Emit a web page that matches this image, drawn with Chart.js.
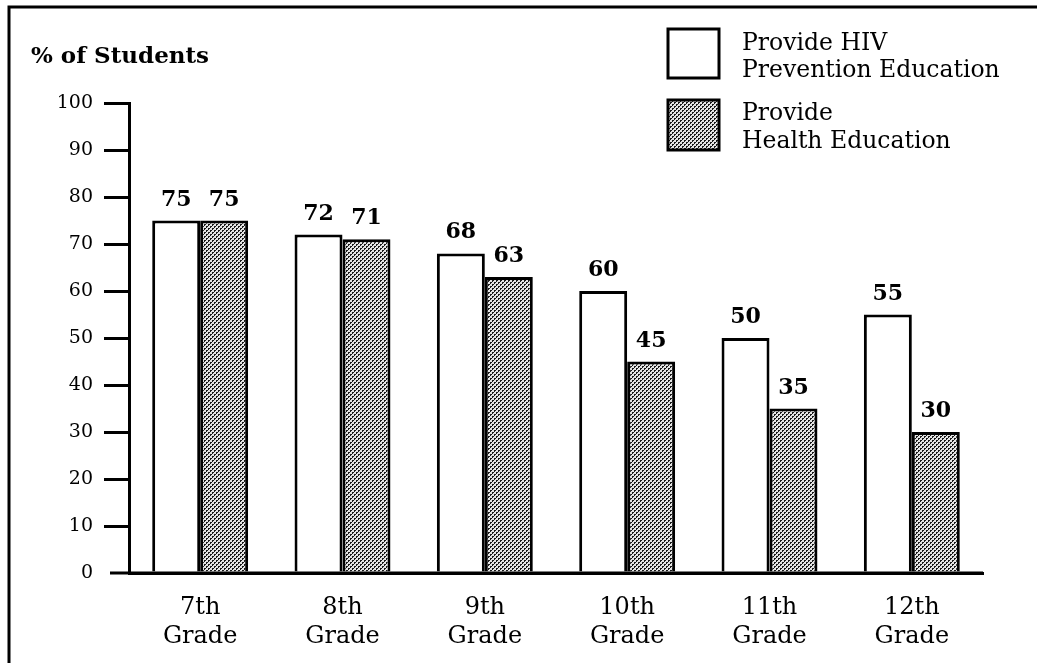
<!DOCTYPE html>
<html>
<head>
<meta charset="utf-8">
<script src="https://cdn.jsdelivr.net/npm/chart.js@4.4.1/dist/chart.umd.min.js"></script>
<style>
  html, body { margin: 0; padding: 0; background: #fff; }
  #wrap { width: 1037px; height: 663px; position: relative; }
</style>
</head>
<body>
<div id="wrap"><canvas id="c" width="1037" height="663"></canvas></div>
<script>
// Grades and the share of students in each grade
const grades = [["7th", "Grade"], ["8th", "Grade"], ["9th", "Grade"], ["10th", "Grade"], ["11th", "Grade"], ["12th", "Grade"]];
const hivPrevention = [75, 72, 68, 60, 50, 55];
const healthEducation = [75, 71, 63, 45, 35, 30];
const seriesNames = [["Provide HIV", "Prevention Education"], ["Provide", "Health Education"]];
const yMin = 0, yMax = 100, yStep = 10;
const yAxisTitle = "% of Students";

const SERIF = "'DejaVu Serif', 'Liberation Serif', serif";
Chart.defaults.font.family = SERIF;
Chart.defaults.color = "#000";

// Dotted screen used for the second series
function makeScreen() {
  const t = document.createElement("canvas");
  t.width = 4; t.height = 4;
  const g = t.getContext("2d");
  g.fillStyle = "#e4e4e4";
  g.fillRect(0, 0, 4, 4);
  g.fillStyle = "#1a1a1a";
  [[0,0],[1,0],[0,1],[2,2],[3,2],[2,3]].forEach(([x, y]) => g.fillRect(x, y, 1, 1));
  return document.getElementById("c").getContext("2d").createPattern(t, "repeat");
}
const screen = makeScreen();

// Page frame: rule along the top and down the left side
const framePlugin = {
  id: "frame",
  beforeDraw(chart) {
    const ctx = chart.ctx;
    ctx.save();
    ctx.fillStyle = "#fff";
    ctx.fillRect(0, 0, chart.width, chart.height);
    ctx.strokeStyle = "#000";
    ctx.lineWidth = 3;
    ctx.beginPath();
    ctx.moveTo(9, chart.height);
    ctx.lineTo(9, 7);
    ctx.lineTo(chart.width, 7);
    ctx.stroke();
    ctx.restore();
  }
};

// Baseline at zero, running a little past the value axis
const baselinePlugin = {
  id: "baseline",
  afterDatasetsDraw(chart) {
    const ctx = chart.ctx;
    const y = chart.scales.y.getPixelForValue(0);
    ctx.save();
    ctx.strokeStyle = "#000";
    ctx.lineWidth = 3;
    ctx.beginPath();
    ctx.moveTo(110, y);
    ctx.lineTo(chart.chartArea.right, y);
    ctx.stroke();
    ctx.restore();
  }
};

// Value printed above each bar
const valueLabelPlugin = {
  id: "valueLabels",
  afterDatasetsDraw(chart) {
    const ctx = chart.ctx;
    ctx.save();
    ctx.font = "bold 22px " + SERIF;
    ctx.fillStyle = "#000";
    ctx.textAlign = "center";
    ctx.textBaseline = "alphabetic";
    chart.data.datasets.forEach((ds, i) => {
      chart.getDatasetMeta(i).data.forEach((bar, j) => {
        ctx.fillText(String(ds.data[j]), bar.x, bar.y - 15);
      });
    });
    ctx.restore();
  }
};

// Axis heading and the key in the upper right
const keyPlugin = {
  id: "key",
  afterDraw(chart) {
    const ctx = chart.ctx;
    ctx.save();
    ctx.fillStyle = "#000";
    ctx.textAlign = "left";
    ctx.textBaseline = "alphabetic";
    ctx.font = "bold 23px " + SERIF;
    ctx.fillText(yAxisTitle, 31, 63);

    const boxes = [{ top: 29, h: 49, base: [50, 77] }, { top: 100, h: 50, base: [120, 148] }];
    chart.data.datasets.forEach((ds, i) => {
      const b = boxes[i];
      ctx.fillStyle = ds.backgroundColor;
      ctx.fillRect(668, b.top, 51, b.h);
      ctx.strokeStyle = ds.borderColor;
      ctx.lineWidth = 3;
      ctx.strokeRect(668, b.top, 51, b.h);
      ctx.fillStyle = "#000";
      ctx.font = "23.5px " + SERIF;
      seriesNames[i].forEach((line, k) => ctx.fillText(line, 742, b.base[k]));
    });
    ctx.restore();
  }
};

new Chart(document.getElementById("c"), {
  type: "bar",
  data: {
    labels: grades,
    datasets: [
      {
        label: seriesNames[0].join(" "),
        data: hivPrevention,
        backgroundColor: "#fff",
        borderColor: "#000",
        borderWidth: 3
      },
      {
        label: seriesNames[1].join(" "),
        data: healthEducation,
        backgroundColor: screen,
        borderColor: "#000",
        borderWidth: 3
      }
    ]
  },
  options: {
    responsive: false,
    animation: false,
    events: [],
    layout: { padding: { top: 103, right: 54, bottom: 0, left: 0 } },
    datasets: { bar: { categoryPercentage: 0.674, barPercentage: 1 } },
    plugins: {
      legend: { display: false },
      tooltip: { enabled: false },
      title: { display: false }
    },
    scales: {
      x: {
        grid: { display: false, drawTicks: false },
        border: { display: true, color: "#000", width: 3 },
        ticks: {
          font: { size: 24, lineHeight: 1.21 },
          color: "#000",
          padding: 20,
          maxRotation: 0,
          autoSkip: false
        },
        afterFit(scale) { scale.height = 90; }
      },
      y: {
        min: yMin,
        max: yMax,
        ticks: {
          stepSize: yStep,
          font: { size: 19 },
          color: "#000",
          padding: 11
        },
        grid: {
          drawOnChartArea: false,
          drawTicks: true,
          tickLength: 25,
          lineWidth: 3,
          color: (c) => (c.tick && c.tick.value === 0 ? "rgba(0,0,0,0)" : "#000")
        },
        border: { display: true, color: "#000", width: 3 },
        afterFit(scale) { scale.width = 129; }
      }
    }
  },
  plugins: [framePlugin, baselinePlugin, valueLabelPlugin, keyPlugin]
});
</script>
</body>
</html>
